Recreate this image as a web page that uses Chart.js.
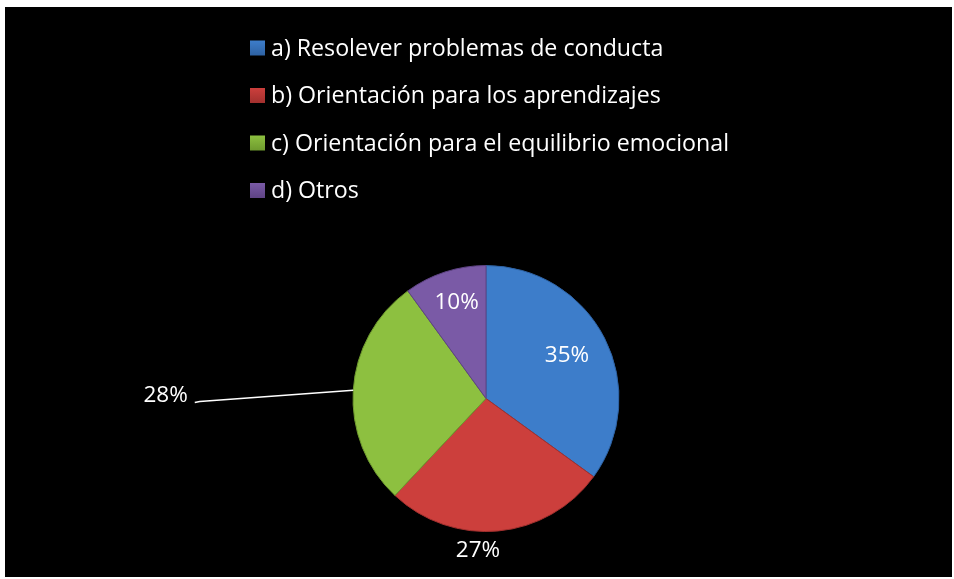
<!DOCTYPE html>
<html>
<head>
<meta charset="utf-8">
<script src="https://cdn.jsdelivr.net/npm/chart.js@4.4.1/dist/chart.umd.min.js"></script>
<style>
    html, body { margin: 0; padding: 0; background: #ffffff; }
    #frame {
        position: absolute;
        left: 5px;
        top: 7px;
        width: 947px;
        height: 570px;
        background: #000000;
    }
</style>
</head>
<body>
<div id="frame"><canvas id="pie"></canvas></div>
<script>
const categories = [
    'a) Resolever problemas de conducta',
    'b) Orientación para los aprendizajes',
    'c) Orientación para el equilibrio emocional',
    'd) Otros'
];
const shares = [35, 27, 28, 10];

const sliceColors = ['#3D7DCA', '#CC3F3C', '#8DC040', '#7A5AA6'];
const sliceEdges = ['#2E62A3', '#A2302E', '#6E9A2E', '#5E4384'];
const FONT = '"Open Sans", "DejaVu Sans", sans-serif';

// where each percentage goes: distance as a share of the radius, angle nudge in degrees
const labelPlacement = [
    { dist: 0.69, shift: -1 },
    { dist: 1.147, shift: 8.4 },
    { dist: 2.19, shift: -4.4, leader: true },
    { dist: 0.756, shift: 1 }
];

const stackedLegend = {
    id: 'stackedLegend',
    afterDraw(chart) {
        const ctx = chart.ctx;
        const x = 245;
        const firstRow = 41;
        const rowGap = 47.5;
        const box = 15;
        ctx.save();
        ctx.font = '23.2px ' + FONT;
        ctx.textBaseline = 'middle';
        ctx.textAlign = 'left';
        chart.data.labels.forEach((label, i) => {
            const y = firstRow + i * rowGap;
            const g = ctx.createLinearGradient(x, y - box / 2, x, y + box / 2);
            g.addColorStop(0, sliceColors[i]);
            g.addColorStop(1, sliceEdges[i]);
            ctx.fillStyle = g;
            ctx.fillRect(x, y - box / 2, box, box);
            ctx.fillStyle = '#ffffff';
            ctx.fillText(label, x + 21, y + 1);
        });
        ctx.restore();
    }
};

const sliceLabels = {
    id: 'sliceLabels',
    afterDatasetsDraw(chart) {
        const ctx = chart.ctx;
        const meta = chart.getDatasetMeta(0);
        ctx.save();
        ctx.font = '22.5px ' + FONT;
        ctx.fillStyle = '#ffffff';
        ctx.strokeStyle = '#ffffff';
        ctx.textBaseline = 'middle';
        meta.data.forEach((arc, i) => {
            const p = arc.getProps(['x', 'y', 'startAngle', 'endAngle', 'outerRadius'], true);
            const mid = (p.startAngle + p.endAngle) / 2;
            const place = labelPlacement[i];
            const ang = mid + place.shift * Math.PI / 180;
            const px = p.x + Math.cos(ang) * place.dist * p.outerRadius;
            const py = p.y + Math.sin(ang) * place.dist * p.outerRadius;
            const text = shares[i] + '%';
            if (place.leader) {
                ctx.lineWidth = 1.5;
                ctx.beginPath();
                ctx.moveTo(p.x + Math.cos(mid) * p.outerRadius, p.y + Math.sin(mid) * p.outerRadius);
                ctx.lineTo(px + 5, py - 1);
                ctx.lineTo(px, py);
                ctx.stroke();
                ctx.textAlign = 'right';
                ctx.fillText(text, px - 7, py - 7);
            } else {
                ctx.textAlign = 'center';
                ctx.fillText(text, px, py);
            }
        });
        ctx.restore();
    }
};

new Chart(document.getElementById('pie'), {
    type: 'pie',
    data: {
        labels: categories,
        datasets: [{
            data: shares,
            backgroundColor: sliceColors,
            borderColor: sliceEdges,
            borderWidth: 1
        }]
    },
    options: {
        responsive: true,
        maintainAspectRatio: false,
        animation: false,
        layout: {
            padding: { top: 258, bottom: 45, left: 30, right: 15 }
        },
        plugins: {
            legend: { display: false },
            tooltip: { enabled: false }
        }
    },
    plugins: [stackedLegend, sliceLabels]
});
</script>
</body>
</html>
